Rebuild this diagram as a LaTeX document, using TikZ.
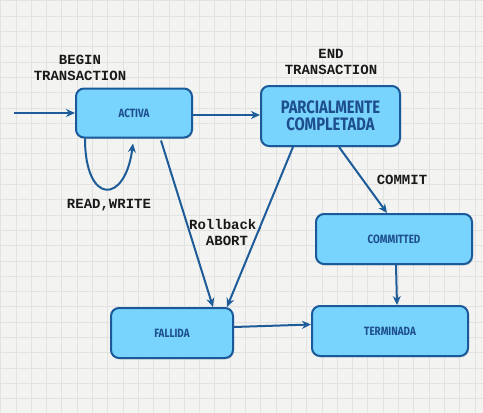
\documentclass[tikz,border=0pt]{standalone}
\usepackage{fontspec}
\usetikzlibrary{arrows.meta,shadows}
\newfontfamily\labfont{Liberation Mono}
\newfontfamily\boxfont[FakeStretch=0.82]{Fira Sans}
\definecolor{paper}{HTML}{F3F3F1}
\definecolor{gridc}{HTML}{E2E2E0}
\definecolor{boxfill}{HTML}{78D4FC}
\definecolor{boxline}{HTML}{1A5A9A}
\definecolor{boxtext}{HTML}{1D4E8E}
\definecolor{arrowc}{HTML}{1D5C98}
\tikzset{
  state/.style={draw=boxline, line width=2pt, fill=boxfill, rounded corners=8pt,
    text=boxtext, font=\boxfont\bfseries\fontsize{12}{13}\selectfont, align=center,
    inner sep=0pt,
    drop shadow={opacity=0.22, shadow xshift=1pt, shadow yshift=-1.5pt}},
  conn/.style={draw=arrowc, line width=2pt, -{Stealth[length=9pt,width=8pt]}},
  lab/.style={font=\labfont\bfseries\fontsize{14}{16}\selectfont, text=black!90, align=center, inner sep=0pt}
}
\begin{document}
\begin{tikzpicture}[x=1pt,y=-1pt]
\useasboundingbox (0,0) rectangle (483,413);
\fill[paper] (0,0) rectangle (483,413);
\foreach \i in {0,...,31} {
  \draw[gridc, line width=0.6pt] (0.5+15.3*\i,0) -- (0.5+15.3*\i,413);
}
\foreach \i in {0,...,27} {
  \draw[gridc, line width=0.6pt] (0,0.7+15.3*\i) -- (483,0.7+15.3*\i);
}
% states
\node[state, minimum width=116pt, minimum height=49pt] (activa) at (134,113) {ACTIVA};
\node[state, minimum width=139pt, minimum height=60pt,
      font=\boxfont\bfseries\fontsize{18}{17}\selectfont] (parc) at (330.5,116) {PARCIALMENTE\\COMPLETADA};
\node[state, minimum width=156pt, minimum height=50pt] (committed) at (394,239) {COMMITTED};
\node[state, minimum width=122pt, minimum height=50pt] (fallida) at (172,333) {FALLIDA};
\node[state, minimum width=156pt, minimum height=50pt] (terminada) at (390,331) {TERMINADA};
% labels
\node[lab] (lbegin) at (80,68) {BEGIN\\TRANSACTION};
\node[lab] (lend) at (331,62) {END\\TRANSACTION};
\node[lab] (lrw) at (109,205) {READ,WRITE};
\node[lab] (lcommit) at (402,180) {COMMIT};
\node[lab] (lroll) at (227,232) {Rollback,\\ABORT};
% connectors
\coordinate (start) at (14,113);
\draw[conn] (start) -- (activa.west);
\draw[conn] ([yshift=-2pt]activa.east) -- ([yshift=1pt]parc.west);
\draw[conn] ([xshift=-49pt]activa.south) .. controls (85,205) and (125,205) .. ([xshift=-1pt,yshift=-5pt]activa.south);
\draw[conn] ([xshift=27pt,yshift=-2pt]activa.south) -- ([xshift=41pt]fallida.north);
\draw[conn] ([xshift=-37.5pt]parc.south) -- ([xshift=55pt]fallida.north);
\draw[conn] ([xshift=8.5pt]parc.south) -- ([xshift=-7pt]committed.north);
\draw[conn] ([xshift=2pt]committed.south) -- ([xshift=7pt]terminada.north);
\draw[conn] ([yshift=6pt]fallida.east) -- ([yshift=6.5pt]terminada.west);
\end{tikzpicture}
\end{document}
